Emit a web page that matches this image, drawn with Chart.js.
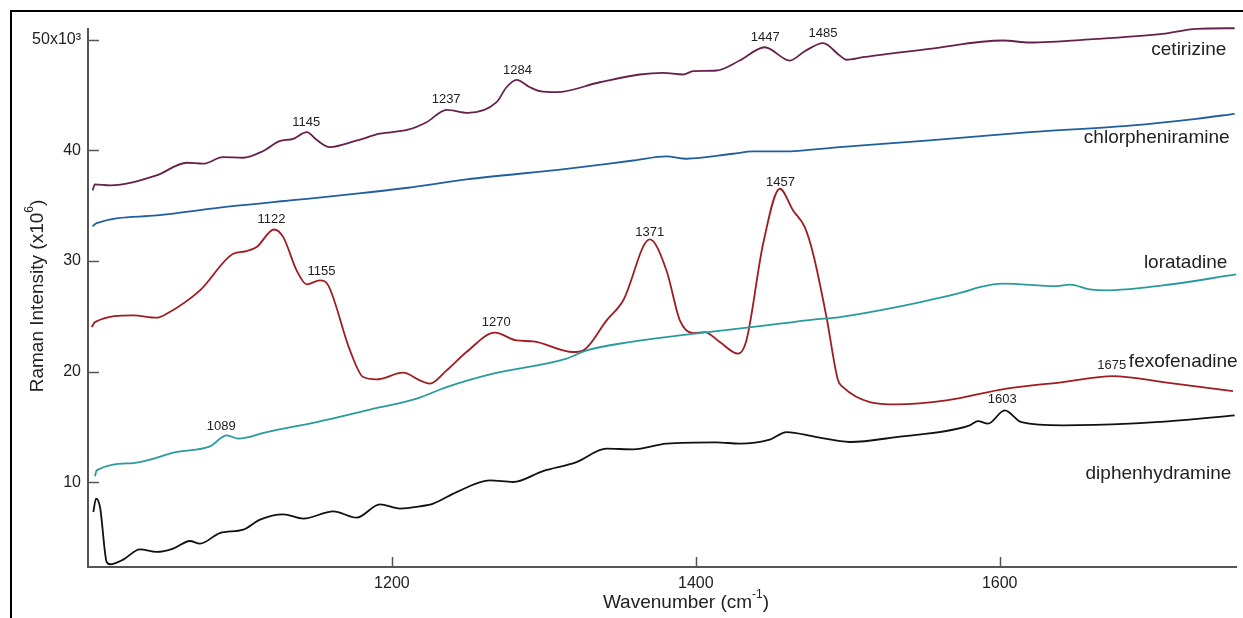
<!DOCTYPE html>
<html>
<head>
<meta charset="utf-8">
<script src="https://cdn.jsdelivr.net/npm/chart.js@4.4.0/dist/chart.umd.min.js"></script>
<style>
    html, body { margin: 0; padding: 0; background: #fff; }
    #wrap { position: relative; width: 1243px; height: 618px; overflow: hidden; }
    #frame { position: absolute; left: 10px; top: 10px; width: 1300px; height: 700px; border-left: 2px solid #000; border-top: 2px solid #000; }
    #ramanChart { position: absolute; left: 0; top: 0; }
</style>
</head>
<body>
<div id="wrap">
    <div id="frame"></div>
    <canvas id="ramanChart" width="1243" height="618"></canvas>
</div>
<script>
// 波数 (cm-1) と強度の読み取り値
const cetirizineWn = [1003, 1004.6, 1014.5, 1045, 1065, 1075.7, 1088.8, 1102, 1115, 1126, 1135, 1144, 1150.4, 1159, 1177, 1192, 1210.5, 1222.8, 1236, 1250, 1268.9, 1275.4, 1282, 1290.8, 1297.4, 1308.4, 1336.8, 1363, 1378.5, 1391.6, 1398.2, 1413.6, 1428.9, 1445.4, 1461.8, 1471.7, 1483.8, 1494.7, 1499.1, 1509.9, 1553.9, 1602, 1619.7, 1663.8, 1707, 1729.6, 1754.6];
const cetirizineInt = [36.37, 36.91, 36.82, 37.72, 38.87, 38.78, 39.37, 39.32, 39.91, 40.82, 41.03, 41.63, 40.94, 40.28, 40.88, 41.49, 41.85, 42.53, 43.65, 43.38, 44.34, 45.69, 46.36, 45.69, 45.33, 45.24, 46.14, 46.84, 46.99, 46.84, 47.14, 47.2, 48.1, 49.3, 48.1, 48.94, 49.67, 48.55, 48.17, 48.4, 49.16, 49.91, 49.73, 50.06, 50.51, 50.97, 51.02];

const chlorpheniramineWn = [1003, 1005.7, 1045.2, 1093.4, 1132.9, 1176.8, 1210.5, 1249.1, 1314.9, 1358.8, 1380.7, 1393.9, 1424.5, 1437.7, 1457.4, 1494.7, 1553.9, 1619.7, 1685.5, 1729.4, 1754.6];
const chlorpheniramineInt = [33.12, 33.41, 34.11, 34.92, 35.46, 36.07, 36.61, 37.36, 38.32, 39.07, 39.44, 39.23, 39.68, 39.89, 39.89, 40.28, 40.88, 41.63, 42.23, 42.84, 43.29];

const loratadineWn = [1004.6, 1005.7, 1029.8, 1058.4, 1080.3, 1091.3, 1098.9, 1117.6, 1150.5, 1183.4, 1216.3, 1236, 1266.6, 1314.9, 1328.1, 1356.6, 1389.5, 1422.4, 1455.3, 1477.2, 1494.7, 1532, 1575.9, 1586.8, 1602.2, 1637.3, 1646.1, 1659.2, 1670.2, 1707.4, 1755.7];
const loratadineInt = [10.54, 11.08, 11.74, 12.74, 13.25, 14.24, 13.95, 14.54, 15.44, 16.5, 17.56, 18.6, 19.81, 21.17, 21.92, 22.67, 23.27, 23.79, 24.33, 24.69, 24.93, 25.83, 27.18, 27.63, 27.94, 27.72, 27.85, 27.43, 27.34, 27.79, 28.78];

const fexofenadineWn = [1002.4, 1004.6, 1029.8, 1045.2, 1051.8, 1073.7, 1095.6, 1104.4, 1111, 1122.4, 1128.5, 1137.3, 1143.9, 1152.6, 1158.1, 1172.4, 1181.1, 1189.9, 1207.4, 1218.4, 1225, 1236, 1249.1, 1267.8, 1282, 1293, 1319.3, 1325.9, 1341.3, 1352.2, 1369.7, 1380.7, 1389.5, 1398.2, 1405.9, 1415.8, 1427.8, 1433.3, 1444.3, 1455.3, 1464, 1471.7, 1477.2, 1486, 1493.6, 1496.9, 1514.5, 1532, 1564.9, 1604.4, 1641.6, 1674.5, 1707.4, 1753.5];
const fexofenadineInt = [24.02, 24.47, 25.08, 24.87, 25.23, 27.34, 30.65, 30.88, 31.25, 32.84, 32.15, 29.14, 27.88, 28.24, 27.79, 21.92, 19.51, 19.3, 19.9, 19.21, 18.91, 20.11, 21.77, 23.52, 22.82, 22.73, 21.77, 21.92, 24.63, 26.43, 31.94, 29.14, 24.63, 23.48, 23.57, 22.67, 21.62, 22.82, 31.55, 36.52, 34.56, 33.05, 30.65, 24.93, 19.21, 18.6, 17.25, 17.04, 17.4, 18.46, 19.06, 19.6, 19.06, 18.24];

const diphenhydramineWn = [1003.5, 1005.3, 1007.9, 1012.3, 1014.5, 1023.2, 1034.2, 1045.2, 1056.1, 1067.1, 1073.7, 1086.8, 1102.2, 1113.2, 1128.5, 1141.7, 1161.4, 1176.8, 1192.1, 1205.3, 1218.4, 1227.2, 1242.6, 1264.5, 1279.8, 1299.5, 1321.5, 1341.2, 1358.8, 1380.7, 1413.6, 1428.9, 1448.7, 1459.7, 1479.4, 1501.3, 1532, 1580.3, 1585.7, 1592.3, 1603.3, 1614.3, 1641.6, 1685.5, 1718.4, 1754.6];
const diphenhydramineInt = [7.32, 8.53, 7.77, 2.8, 2.6, 3.02, 3.95, 3.71, 4.01, 4.7, 4.46, 5.42, 5.73, 6.63, 7.11, 6.72, 7.38, 6.81, 8.01, 7.63, 7.83, 8.08, 9.12, 10.18, 10.03, 11.02, 11.83, 13.04, 12.98, 13.49, 13.61, 13.49, 13.86, 14.54, 14.09, 13.64, 14.09, 15.15, 15.53, 15.3, 16.5, 15.44, 15.15, 15.3, 15.6, 16.05];

const seriesNames = ['cetirizine', 'chlorpheniramine', 'loratadine', 'fexofenadine', 'diphenhydramine'];
const seriesColors = ['#67204d', '#1f5f9c', '#2a9b9c', '#9e1c22', '#111111'];

// ピーク位置のラベル
const peakWn = [1145, 1237, 1284, 1447, 1485, 1122, 1155, 1270, 1371, 1457, 1675, 1089, 1603];
const peakSeries = [0, 0, 0, 0, 0, 3, 3, 3, 3, 3, 3, 2, 4];

const xTicks = [1200, 1400, 1600];
const yTicks = [10, 20, 30, 40, 50];
const yTickLabels = ['10', '20', '30', '40', '50x10\u00b3'];

const wnArrays = [cetirizineWn, chlorpheniramineWn, loratadineWn, fexofenadineWn, diphenhydramineWn];
const intArrays = [cetirizineInt, chlorpheniramineInt, loratadineInt, fexofenadineInt, diphenhydramineInt];

const FONT = "'Liberation Sans', Arial, sans-serif";
const TEXT = '#222';
const AXIS = '#555';

function valueAt(xs, ys, v) {
    for (let i = 0; i < xs.length - 1; i++) {
        if (v >= xs[i] && v <= xs[i + 1]) {
            const t = (v - xs[i]) / (xs[i + 1] - xs[i]);
            return ys[i] + t * (ys[i + 1] - ys[i]);
        }
    }
    return ys[ys.length - 1];
}

function drawWithSup(ctx, parts, cx, cy, size) {
    const supSize = Math.round(size * 0.65);
    let total = 0;
    parts.forEach(p => {
        ctx.font = `${p.sup ? supSize : size}px ${FONT}`;
        p.w = ctx.measureText(p.t).width;
        total += p.w;
    });
    let x = cx - total / 2;
    ctx.textAlign = 'left';
    ctx.textBaseline = 'middle';
    parts.forEach(p => {
        ctx.font = `${p.sup ? supSize : size}px ${FONT}`;
        ctx.fillText(p.t, x, p.sup ? cy - size * 0.42 : cy);
        x += p.w;
    });
}

const overlayPlugin = {
    id: 'overlay',
    afterDraw(chart) {
        const { ctx, chartArea: area, scales: { x, y } } = chart;
        ctx.save();

        // 内向きの目盛り
        ctx.strokeStyle = AXIS;
        ctx.lineWidth = 1.5;
        xTicks.forEach(v => {
            const px = Math.round(x.getPixelForValue(v)) + 0.5;
            ctx.beginPath();
            ctx.moveTo(px, area.bottom);
            ctx.lineTo(px, area.bottom - 10);
            ctx.stroke();
        });
        yTicks.forEach(v => {
            const py = Math.round(y.getPixelForValue(v)) + 0.5;
            ctx.beginPath();
            ctx.moveTo(area.left, py);
            ctx.lineTo(area.left + 11, py);
            ctx.stroke();
        });

        ctx.fillStyle = TEXT;

        // ピークラベル
        ctx.font = `13px ${FONT}`;
        ctx.textAlign = 'center';
        ctx.textBaseline = 'middle';
        peakWn.forEach((wn, i) => {
            const s = peakSeries[i];
            const val = valueAt(wnArrays[s], intArrays[s], wn);
            ctx.fillText(String(wn), x.getPixelForValue(wn) - 2, y.getPixelForValue(val) - 11);
        });

        // 系列名
        const namePos = [[1749.1, 49.07], [1751.3, 41.12], [1749.8, 29.8], [1756.6, 20.86], [1752.4, 10.79]];
        ctx.font = `19px ${FONT}`;
        ctx.textAlign = 'right';
        seriesNames.forEach((name, i) => {
            ctx.fillText(name, x.getPixelForValue(namePos[i][0]), y.getPixelForValue(namePos[i][1]));
        });

        // 軸タイトル
        drawWithSup(ctx, [{ t: 'Wavenumber (cm' }, { t: '-1', sup: true }, { t: ')' }], 686, 603, 19);
        ctx.translate(38, 296);
        ctx.rotate(-Math.PI / 2);
        drawWithSup(ctx, [{ t: 'Raman Intensity (x10' }, { t: '6', sup: true }, { t: ')' }], 0, 0, 19);

        ctx.restore();
    }
};

document.addEventListener('DOMContentLoaded', () => {
    const ctx = document.getElementById('ramanChart').getContext('2d');

    const datasets = seriesNames.map((name, i) => ({
        label: name,
        data: wnArrays[i].map((wn, k) => ({ x: wn, y: intArrays[i][k] })),
        borderColor: seriesColors[i],
        borderWidth: 1.8,
        pointRadius: 0,
        fill: false,
        cubicInterpolationMode: 'monotone',
        clip: 6
    }));

    new Chart(ctx, {
        type: 'line',
        data: { datasets },
        options: {
            responsive: false,
            animation: false,
            devicePixelRatio: 1,
            layout: { padding: { left: 0, top: 29, right: 7, bottom: 0 } },
            plugins: {
                legend: { display: false },
                tooltip: { enabled: false }
            },
            scales: {
                x: {
                    type: 'linear',
                    min: 1000,
                    max: 1755.5,
                    grid: { display: false, drawTicks: false },
                    border: { display: true, color: AXIS, width: 2 },
                    afterBuildTicks: scale => { scale.ticks = xTicks.map(v => ({ value: v })); },
                    afterFit: scale => { scale.height = 51; },
                    ticks: {
                        padding: 7,
                        color: TEXT,
                        font: { family: FONT, size: 16 },
                        maxRotation: 0,
                        callback: value => String(value)
                    }
                },
                y: {
                    type: 'linear',
                    min: 2.35,
                    max: 50.95,
                    grid: { display: false, drawTicks: false },
                    border: { display: true, color: AXIS, width: 2 },
                    afterBuildTicks: scale => { scale.ticks = yTicks.map(v => ({ value: v })); },
                    afterFit: scale => { scale.width = 88; },
                    ticks: {
                        padding: 7,
                        color: TEXT,
                        font: { family: FONT, size: 16 },
                        callback: value => yTickLabels[yTicks.indexOf(value)]
                    }
                }
            }
        },
        plugins: [overlayPlugin]
    });
});
</script>
</body>
</html>
